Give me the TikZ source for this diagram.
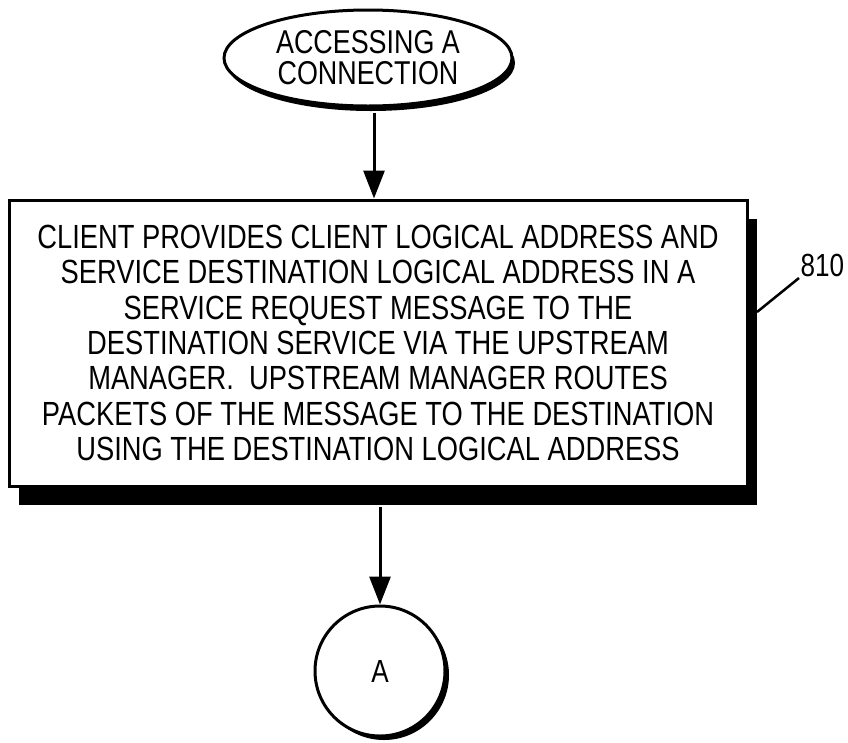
\documentclass[tikz,border=0pt]{standalone}
\usepackage{fontspec}
\setmainfont{Liberation Sans}[FakeStretch=0.815]
\usetikzlibrary{positioning,arrows.meta,shapes.geometric,shadows}

\begin{document}
\begin{tikzpicture}[x=1pt, y=-1pt, >={Triangle[length=28pt,width=21pt]},
        line width=3pt,
        term/.style={draw, ellipse, fill=white, align=center, inner sep=0pt,
            minimum width=288pt, minimum height=96pt, font=\fontsize{33}{31}\selectfont,
            general shadow={fill=black, shadow xshift=3pt, shadow yshift=-5pt}},
        stepbox/.style={draw, rectangle, fill=white, align=center, inner sep=0pt,
            minimum width=738pt, minimum height=286pt, font=\fontsize{33.5}{35.3}\selectfont,
            general shadow={fill=black, shadow xshift=10pt, shadow yshift=-19pt}},
        conn/.style={draw, circle, fill=white, inner sep=0pt, minimum size=130pt,
            font=\fontsize{32}{32}\selectfont,
            general shadow={fill=black, shadow xshift=4pt, shadow yshift=-4pt}},
        tag/.style={inner sep=0pt, font=\fontsize{32}{32}\selectfont}]
        \useasboundingbox (0,0) rectangle (848,742);

        \node[term] (start) at (368,58) {ACCESSING A\\CONNECTION};
        \node[stepbox] (s810) at (378,343) {CLIENT PROVIDES CLIENT LOGICAL ADDRESS AND\\SERVICE DESTINATION LOGICAL ADDRESS IN A\\SERVICE REQUEST MESSAGE TO THE\\DESTINATION SERVICE VIA THE UPSTREAM\\MANAGER.\ \ UPSTREAM MANAGER ROUTES\\PACKETS OF THE MESSAGE TO THE DESTINATION\\USING THE DESTINATION LOGICAL ADDRESS};
        \node[conn] (offA) at (380,671) {A};
        \node[tag, anchor=south west] (l810) at (799,278) {810};
        \coordinate (lead810) at (757,312);

        \draw[->] (s810.north -| 374,0) ++(0,-86) -- (s810.north -| 374,0);
        \draw[->] (offA.north |- s810.south) ++(0,19) -- (offA.north);
        \draw[line width=2.5pt] (lead810) -- (l810.south west);
    \end{tikzpicture}
\end{document}
